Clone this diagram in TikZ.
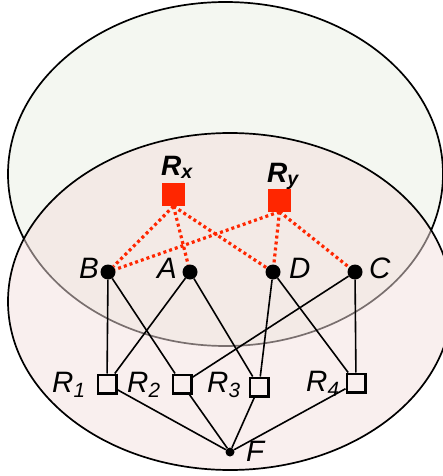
\documentclass[tikz,border=0pt]{standalone}
\usepackage{fontspec}
\setmainfont{Liberation Sans}
\definecolor{topfill}{RGB}{244,247,241}
\definecolor{botfill}{RGB}{243,223,221}
\definecolor{relred}{RGB}{255,38,0}
\tikzset{
  dot/.style={circle, fill=black, inner sep=0pt, minimum size=15pt},
  fdot/.style={circle, fill=black, inner sep=0pt, minimum size=9pt},
  rbox/.style={draw, line width=2.5pt, inner sep=0pt, minimum size=18.5pt},
  xbox/.style={fill=relred, inner sep=0pt, minimum size=23pt},
  lab/.style={font=\fontsize{29.5}{32}\selectfont\itshape, inner sep=0pt, anchor=base west},
  xlab/.style={font=\fontsize{28}{30}\selectfont\bfseries\itshape, inner sep=0pt, anchor=base west},
  link/.style={line width=1.6pt},
  tie/.style={relred, line width=3.2pt, dash pattern=on 3pt off 3pt},
}
\begin{document}
\begin{tikzpicture}[x=1pt, y=-1pt]
  \useasboundingbox (0,0) rectangle (443,476);
  \draw[fill=topfill, line width=1.7pt] (225.5,174) ellipse [x radius=217.5pt, y radius=172pt];
  \draw[fill=botfill, fill opacity=0.5, line width=1.7pt] (230,301.5) ellipse [x radius=222pt, y radius=168.5pt];

  \node[xbox] (Rx) at (173.5,194.5) {};
  \node[xbox] (Ry) at (279.5,200) {};
  \node[dot] (B) at (108,272) {};
  \node[dot] (A) at (190,272) {};
  \node[dot] (D) at (273,272) {};
  \node[dot] (C) at (355,272) {};
  \node[rbox] (R1) at (107,384) {};
  \node[rbox] (R2) at (182,384) {};
  \node[rbox] (R3) at (259,387) {};
  \node[rbox] (R4) at (356,383) {};
  \node[fdot] (F) at (230,452) {};

  \node[xlab] (lRx) at (161,175) {R\textsubscript{x}};
  \node[xlab] (lRy) at (267,182) {R\textsubscript{y}};
  \node[lab] (lB) at (79,278) {B};
  \node[lab] (lA) at (157,278) {A};
  \node[lab] (lD) at (289,278) {D};
  \node[lab] (lC) at (369,278) {C};
  \node[lab] (lR1) at (52,392) {R\textsubscript{1}};
  \node[lab] (lR2) at (127,392) {R\textsubscript{2}};
  \node[lab] (lR3) at (207,392) {R\textsubscript{3}};
  \node[lab] (lR4) at (306,391) {R\textsubscript{4}};
  \node[lab] (lF) at (246,461) {F};

  \foreach \a/\b in {B/R1, B/R2, A/R1, A/R3, D/R3, D/R4, C/R2, C/R4}
    \draw[link] (\a) -- (\b);
  \foreach \r in {R1, R2, R3, R4}
    \draw[link] (\r) -- (F);
  \foreach \a/\b in {Rx/B, Rx/A, Rx/D, Ry/B, Ry/D, Ry/C}
    \draw[tie] (\a.south) -- (\b);
\end{tikzpicture}
\end{document}
